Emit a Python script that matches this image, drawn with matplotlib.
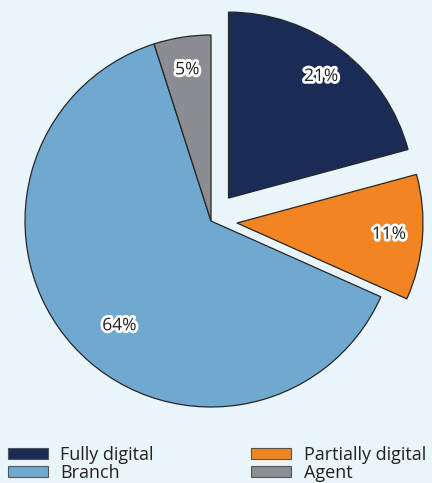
import matplotlib.pyplot as plt
import matplotlib.patheffects as pe
from matplotlib.patches import Patch
import numpy as np

# slice data, clockwise from 12 o'clock
labels = ["Fully digital", "Partially digital", "Branch", "Agent"]
shares = [21, 11, 64, 5]
colors = ["#1a2b56", "#f28522", "#70a9d0", "#8c8d92"]
explode = [0.155, 0.14, 0, 0]

bg = "#eaf4fb"
fig = plt.figure(figsize=(4.32, 4.83), dpi=100, facecolor=bg)
ax = fig.add_axes([0, 0, 1, 1])
ax.set_facecolor(bg)

# pie radius = 186 px, centre at (211, 221) px from top-left
R = 186.0
cx, cy = 211.0, 221.0
W, H = 432.0, 483.0

total = sum(shares)
wedges, texts, autotexts = ax.pie(
    shares, colors=colors, explode=explode, startangle=90, counterclock=False,
    radius=1.0, autopct=lambda p: "%d%%" % round(p * total / 100), pctdistance=0.82,
    wedgeprops=dict(edgecolor="#262626", linewidth=0.9),
    textprops=dict(fontsize=12.5, color="#222222", family=["Open Sans", "DejaVu Sans"]))

for t in autotexts:
    t.set_path_effects([pe.withStroke(linewidth=4, foreground="white")])

# Excel puts the big slice's label a bit off its bisector
ang = np.deg2rad(-131)
autotexts[2].set_position((0.75 * np.cos(ang), 0.75 * np.sin(ang)))

ax.set_aspect("auto")
ax.set_xlim(-cx / R, (W - cx) / R)
ax.set_ylim(-(H - cy) / R, cy / R)
ax.axis("off")

handles = [Patch(facecolor=colors[i], edgecolor="#555555", linewidth=0.8, label=labels[i])
           for i in [0, 2, 1, 3]]
fig.legend(handles=handles, ncol=2, loc="lower left", bbox_to_anchor=(0.002, -0.012),
           frameon=False, borderaxespad=0, handlelength=2.2, handleheight=0.55,
           handletextpad=0.7, columnspacing=5.4, labelspacing=0.0,
           prop=dict(family=["Open Sans", "DejaVu Sans"], size=13),
           labelcolor="#222222")

fig.savefig("out.png", dpi=100, facecolor=bg)
